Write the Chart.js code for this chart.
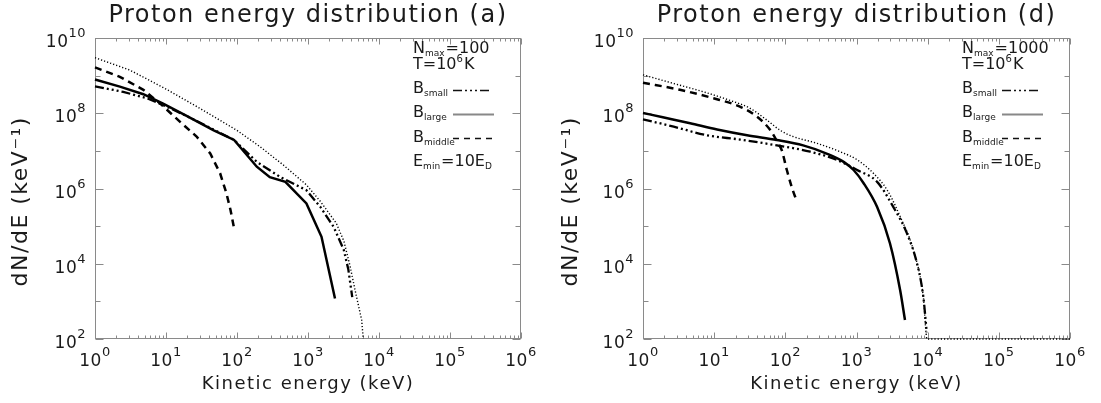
<!DOCTYPE html>
<html>
<head>
<meta charset="utf-8">
<script src="https://cdn.jsdelivr.net/npm/chart.js@4.4.1/dist/chart.umd.min.js"></script>
<style>
  html, body { margin: 0; padding: 0; background: #fff; }
  #wrap { position: relative; width: 1101px; height: 403px; }
  #chartA { position: absolute; left: 0; top: 0; }
  #chartD { position: absolute; left: 550px; top: 0; }
</style>
</head>
<body>
<div id="wrap">
  <canvas id="chartA" width="550" height="403"></canvas>
  <canvas id="chartD" width="551" height="403"></canvas>
</div>
<script>
// axis ticks: value, and label as [base, exponent]
const xTickValues = [1, 10, 100, 1e3, 1e4, 1e5, 1e6];
const xTickLabels = [["10", "0"], ["10", "1"], ["10", "2"], ["10", "3"], ["10", "4"], ["10", "5"], ["10", "6"]];
const yTickValues = [1e2, 1e4, 1e6, 1e8, 1e10];
const yTickLabels = [["10", "2"], ["10", "4"], ["10", "6"], ["10", "8"], ["10", "10"]];

// panel (a), N_max = 100  (energy in keV, dN/dE in keV^-1)
const aTotalE = [1, 3.1, 10, 30, 100, 210, 450, 950, 1500, 2500, 3200, 3900, 4600, 5700, 6000];
const aTotalN = [3.0e9, 1.4e9, 4.4e8, 1.35e8, 3.5e7, 1.3e7, 4.2e6, 1.25e6, 4.5e5, 1.2e5, 4.0e4, 8.9e3, 2.0e3, 3.2e2, 1.0e2];
const aSmallE = [1, 2.5, 5.4, 9.1, 19.5, 91, 190, 410, 950, 1500, 2300, 3200, 3700, 4200];
const aSmallN = [5.2e8, 3.7e8, 2.5e8, 1.65e8, 8.5e7, 1.95e7, 5.1e6, 2.0e6, 9.0e5, 3.2e5, 9.5e4, 2.3e4, 7.0e3, 1.3e3];
const aLargeE = [1, 2.24, 4.8, 9.1, 19.5, 47, 91, 190, 290, 480, 950, 1550, 2400];
const aLargeN = [7.9e8, 5.1e8, 3.2e8, 1.8e8, 8.5e7, 3.5e7, 1.95e7, 3.8e6, 2.0e6, 1.5e6, 4.0e5, 5.2e4, 1.2e3];
const aMiddleE = [1, 2.24, 4.8, 8.3, 15.8, 27, 42, 58, 71, 81, 91];
const aMiddleN = [1.66e9, 9.3e8, 4.2e8, 1.8e8, 5.9e7, 2.4e7, 8.5e6, 2.5e6, 7.4e5, 2.7e5, 8.7e4];

// panel (d), N_max = 1000
const dTotalE = [1, 2.6, 7.1, 16.6, 32, 55, 85, 129, 275, 590, 1020, 1740, 2700, 4100, 6300, 8700, 9800, 1e6];
const dTotalN = [1.05e9, 6.3e8, 3.7e8, 2.2e8, 1.35e8, 6.6e7, 3.5e7, 2.4e7, 1.6e7, 9.5e6, 5.8e6, 2.5e6, 9.1e5, 1.8e5, 2.3e4, 1.3e3, 1.0e2, 1.0e2];
const dSmallE = [1, 2.7, 7.9, 23, 76, 224, 525, 1020, 1950, 3300, 5100, 7100, 8700, 9700];
const dSmallN = [6.9e7, 4.4e7, 2.6e7, 2.0e7, 1.4e7, 9.5e6, 5.8e6, 3.1e6, 1.5e6, 3.2e5, 6.5e4, 1.0e4, 1.3e3, 1.5e2];
const dLargeE = [1, 1.9, 4.6, 11, 29, 76, 178, 380, 660, 910, 1260, 1950, 2950, 4100, 4800];
const dLargeN = [1.02e8, 7.8e7, 5.4e7, 3.7e7, 2.6e7, 1.95e7, 1.4e7, 8.5e6, 5.1e6, 3.1e6, 1.38e6, 3.2e5, 3.5e4, 2.0e3, 3.2e2];
const dMiddleE = [1, 3.3, 9.8, 23, 40, 62, 79, 89, 105, 123, 145];
const dMiddleN = [6.5e8, 4.2e8, 2.5e8, 1.5e8, 8.1e7, 3.5e7, 1.6e7, 1.05e7, 3.1e6, 1.1e6, 4.5e5];

const FONT = "'DejaVu Sans', sans-serif";
const textColor = "#1a1a1a";
const frameColor = "#8a8a8a";

// line styles
const styleTotal = { width: 1.4, dash: [1.2, 2] };
const styleSmall = { width: 2.3, dash: [9, 3, 2, 3, 2, 3, 2, 3] };
const styleLarge = { width: 2.5, dash: [] };
const styleMiddle = { width: 2.5, dash: [7, 5] };

function toPoints(es, ns) {
  return es.map((e, i) => ({ x: e, y: ns[i] }));
}

// 글자 간격 (원본 글꼴이 넓음)
const wideText = {
  id: "wideText",
  beforeLayout(chart) { chart.ctx.letterSpacing = "1.5px"; },
  beforeDraw(chart) { chart.ctx.letterSpacing = "1.5px"; },
};

// 프레임 + 안쪽으로 향한 눈금
const frameTicks = {
  id: "frameTicks",
  beforeDatasetsDraw(chart) {
    const { ctx, chartArea, scales } = chart;
    const l = Math.round(chartArea.left) + 0.5;
    const r = Math.round(chartArea.right) - 0.5;
    const t = Math.round(chartArea.top) + 0.5;
    const b = Math.round(chartArea.bottom) - 0.5;
    ctx.save();
    ctx.strokeStyle = frameColor;
    ctx.lineWidth = 1;
    ctx.strokeRect(l, t, r - l, b - t);
    ctx.beginPath();
    const x = scales.x, y = scales.y;
    for (let d = Math.log10(x.min); d <= Math.log10(x.max); d++) {
      for (let m = 1; m <= 9; m++) {
        const v = m * Math.pow(10, d);
        if (v > x.max) break;
        const px = Math.round(x.getPixelForValue(v)) + 0.5;
        const len = m === 1 ? 6 : 3;
        ctx.moveTo(px, b); ctx.lineTo(px, b - len);
        ctx.moveTo(px, t); ctx.lineTo(px, t + len);
      }
    }
    for (let d = Math.log10(y.min); d <= Math.log10(y.max); d++) {
      const py = Math.round(y.getPixelForValue(Math.pow(10, d))) + 0.5;
      const len = d % 2 === 0 ? 8 : 5;
      ctx.moveTo(l, py); ctx.lineTo(l + len, py);
      ctx.moveTo(r, py); ctx.lineTo(r - len, py);
    }
    ctx.stroke();
    ctx.restore();
  },
};

// 눈금 라벨: 10 + 위첨자 지수
const powerLabels = {
  id: "powerLabels",
  afterDraw(chart) {
    const { ctx, chartArea, scales } = chart;
    const baseFont = "17px " + FONT;
    const expFont = "13px " + FONT;
    ctx.save();
    ctx.letterSpacing = "0.5px";
    ctx.fillStyle = textColor;
    ctx.textAlign = "left";
    ctx.textBaseline = "alphabetic";
    const measure = (lab) => {
      ctx.font = baseFont;
      const wb = ctx.measureText(lab[0]).width;
      ctx.font = expFont;
      const we = ctx.measureText(lab[1]).width;
      return [wb, we];
    };
    const put = (lab, x0, yb, wb) => {
      ctx.font = baseFont;
      ctx.fillText(lab[0], x0, yb);
      ctx.font = expFont;
      ctx.fillText(lab[1], x0 + wb, yb - 10);
    };
    scales.x.ticks.forEach((t, i) => {
      const lab = xTickLabels[i];
      const px = scales.x.getPixelForValue(t.value);
      const [wb, we] = measure(lab);
      put(lab, px - (wb + we) / 2, chartArea.bottom + 27, wb);
    });
    scales.y.ticks.forEach((t, i) => {
      const lab = yTickLabels[i];
      const py = scales.y.getPixelForValue(t.value);
      const [wb, we] = measure(lab);
      put(lab, chartArea.left - 9 - wb - we, py + 9, wb);
    });
    ctx.restore();
  },
};

// 텍스트 (아래첨자/위첨자)
function drawRich(ctx, x, y, parts) {
  for (const [txt, kind] of parts) {
    if (kind === -1) {
      ctx.font = "9px " + FONT;
      ctx.fillText(txt, x, y + 3);
    } else if (kind === 1) {
      ctx.font = "10px " + FONT;
      ctx.fillText(txt, x, y - 7);
    } else {
      ctx.font = "16px " + FONT;
      ctx.fillText(txt, x, y);
    }
    x += ctx.measureText(txt).width + (kind ? 1 : 0);
  }
}

function sampleLine(ctx, x1, x2, y, style, color) {
  ctx.save();
  ctx.strokeStyle = color;
  ctx.lineWidth = style.width;
  ctx.setLineDash(style.dash);
  ctx.beginPath();
  ctx.moveTo(x1, y);
  ctx.lineTo(x2, y);
  ctx.stroke();
  ctx.restore();
}

const panelNotes = {
  id: "panelNotes",
  afterDraw(chart, args, opts) {
    const { ctx, chartArea } = chart;
    const r = chartArea.right, t = chartArea.top;
    const x0 = r - 108;
    ctx.save();
    ctx.letterSpacing = "0px";
    ctx.fillStyle = textColor;
    ctx.textAlign = "left";
    ctx.textBaseline = "alphabetic";
    drawRich(ctx, x0, t + 15, [["N"], ["max", -1], ["=" + opts.nmax]]);
    drawRich(ctx, x0, t + 31, [["T=10"], ["6", 1], ["K"]]);
    drawRich(ctx, x0, t + 55, [["B"], ["small", -1]]);
    drawRich(ctx, x0, t + 79, [["B"], ["large", -1]]);
    drawRich(ctx, x0, t + 104, [["B"], ["middle", -1]]);
    drawRich(ctx, x0, t + 128, [["E"], ["min", -1], ["=10E"], ["D", -1]]);
    sampleLine(ctx, r - 68, r - 29, t + 52.5, { width: 1.5, dash: styleSmall.dash }, "#111");
    sampleLine(ctx, r - 68, r - 27, t + 76.5, { width: 2, dash: [] }, "#888");
    sampleLine(ctx, r - 68, r - 26, t + 100.5, { width: 1.5, dash: [6, 5] }, "#111");
    ctx.restore();
  },
};

function makeChart(id, panel, nmax, series, yWidth, padRight, smooth) {
  return new Chart(document.getElementById(id), {
    type: "line",
    data: {
      datasets: series.map((s) => ({
        data: toPoints(s.e, s.n),
        borderColor: "#000",
        borderWidth: s.style.width,
        borderDash: s.style.dash,
        pointRadius: 0,
        fill: false,
        clip: 3,
        tension: 0,
        cubicInterpolationMode: smooth ? "monotone" : "default",
      })),
    },
    options: {
      responsive: false,
      animation: false,
      devicePixelRatio: 1,
      layout: { padding: { left: 0, right: padRight, top: 0, bottom: 0 } },
      plugins: {
        legend: { display: false },
        tooltip: { enabled: false },
        title: {
          display: true,
          fullSize: false,
          text: "Proton energy distribution (" + panel + ")",
          color: textColor,
          font: { family: FONT, size: 24, weight: "normal" },
          padding: { top: 1, bottom: 8.2 },
        },
        panelNotes: { nmax: nmax },
      },
      scales: {
        x: {
          type: "logarithmic",
          min: 1,
          max: 1e6,
          afterBuildTicks: (s) => { s.ticks = xTickValues.map((v) => ({ value: v })); },
          afterFit: (s) => { s.height = 64; },
          grid: { display: false, drawTicks: false },
          border: { display: false },
          ticks: { display: false },
          title: {
            display: true,
            text: "Kinetic energy (keV)",
            color: textColor,
            font: { family: FONT, size: 18 },
            padding: { top: 0, bottom: 8 },
          },
        },
        y: {
          type: "logarithmic",
          min: 1e2,
          max: 1e10,
          afterBuildTicks: (s) => { s.ticks = yTickValues.map((v) => ({ value: v })); },
          afterFit: (s) => { s.width = yWidth; },
          grid: { display: false, drawTicks: false },
          border: { display: false },
          ticks: { display: false },
          title: {
            display: true,
            // 끝의 공백은 제목을 조금 아래로 밀기 위함
            text: "dN/dE (keV⁻¹)   ",
            color: textColor,
            font: { family: FONT, size: 22 },
            padding: { top: 8, bottom: 0 },
          },
        },
      },
    },
    plugins: [wideText, frameTicks, powerLabels, panelNotes],
  });
}

makeChart("chartA", "a", "100", [
  { e: aTotalE, n: aTotalN, style: styleTotal },
  { e: aSmallE, n: aSmallN, style: styleSmall },
  { e: aLargeE, n: aLargeN, style: styleLarge },
  { e: aMiddleE, n: aMiddleN, style: styleMiddle },
], 95, 29, false);

makeChart("chartD", "d", "1000", [
  { e: dTotalE, n: dTotalN, style: styleTotal },
  { e: dSmallE, n: dSmallN, style: styleSmall },
  { e: dLargeE, n: dLargeN, style: styleLarge },
  { e: dMiddleE, n: dMiddleN, style: styleMiddle },
], 93, 31, true);
</script>
</body>
</html>
